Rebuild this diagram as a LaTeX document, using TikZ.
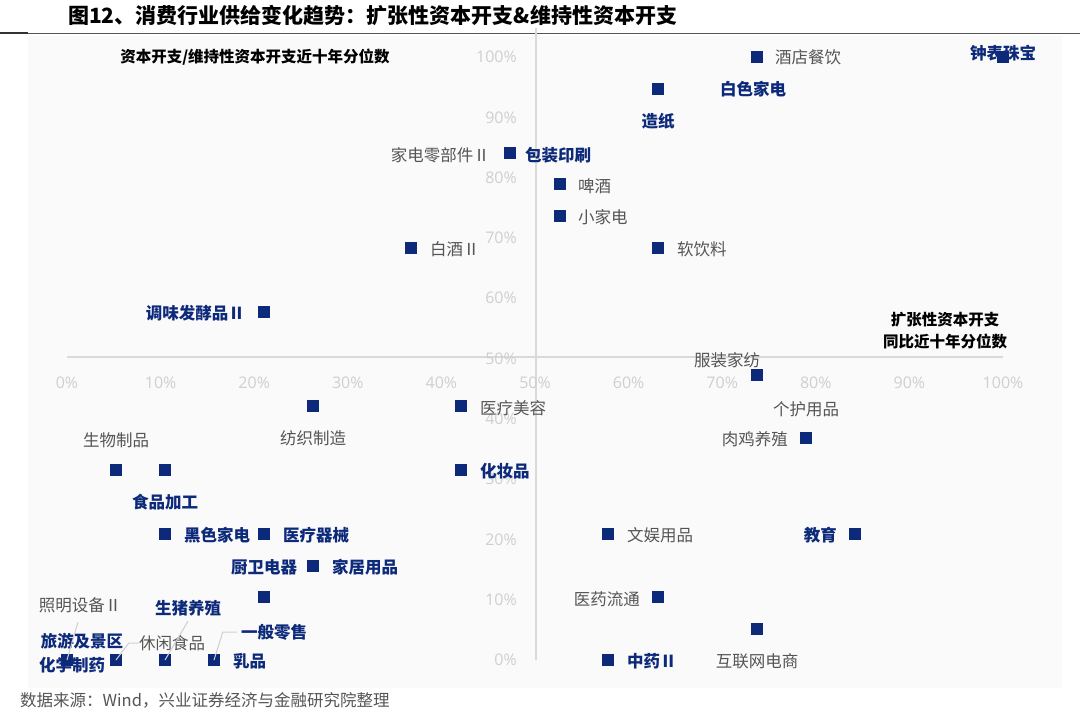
\documentclass[tikz,border=0pt]{standalone}
\usepackage{fontspec}
\setmainfont{Noto Sans CJK SC}
\newfontfamily\latinfont{Open Sans}
\definecolor{mk}{HTML}{0D2A7A}
\definecolor{lg}{HTML}{555555}
\definecolor{ax}{HTML}{D9D9D9}
\definecolor{tk}{HTML}{CFCFCF}
\begin{document}
\begin{tikzpicture}[x=1pt,y=-1pt,
 pt/.style={fill=mk,minimum size=12pt,inner sep=0pt},
 gl/.style={text=lg,font=\fontsize{16.5}{18}\selectfont,inner sep=0pt},
 bl/.style={text=mk,font=\fontsize{16.5}{18}\selectfont\bfseries,inner sep=0pt},
 tick/.style={text=tk,font=\latinfont\fontsize{16}{18}\selectfont,inner sep=0pt},
 ttl/.style={text=black,font=\fontsize{15.5}{18}\selectfont\bfseries,inner sep=0pt},
 lead/.style={draw=tk,line width=1pt}]
\useasboundingbox (0,0) rectangle (1080,715);
\fill[white] (0,0) rectangle (1080,715);
\fill[black!2] (28,36) rectangle (1062,688);
\node[anchor=west,font=\fontsize{21}{24}\selectfont\bfseries,inner sep=0pt] (title) at (68,15) {图12、消费行业供给变化趋势：扩张性资本开支\&维持性资本开支};
\draw[lg,line width=1pt] (0,33) -- (1080,33);
\draw[black!80,line width=2pt] (0,33) -- (28,33);
\node[anchor=west,font=\fontsize{16.5}{18}\selectfont,text=lg,inner sep=0pt] (src) at (20,700) {数据来源：Wind，兴业证券经济与金融研究院整理};
% axes
\coordinate (h0) at (67,357); \coordinate (h1) at (1003,357);
\coordinate (v0) at (536,28); \coordinate (v1) at (536,660);
\draw[ax,line width=1.5pt] (h0) -- (h1);
\draw[ax,line width=1.5pt] (v0) -- (v1);
\foreach \i in {1,...,10}{
 \node[tick] (x\i) at ({67+93.6*\i},383) {\i0\%};
 \node[tick,anchor=east] (y\i) at (517,{660-60.3*\i}) {\i0\%};
}
\node[tick] (x0) at (67,383) {0\%};
\node[tick,anchor=east] (y0) at (517,660) {0\%};
\node[ttl] (yt) at (255,57) {资本开支/维持性资本开支近十年分位数};
\node[ttl,align=center] (xt) at (945,331) {扩张性资本开支\\[4pt]同比近十年分位数};
% markers
\foreach \n/\x/\y in {a/757/57,b/1003/57,c/658/89,d/510/153,e/560/184,f/560/216,g/658/248,h/411/248,i/264/312,j/757/375,k/806/438,l/855/534,m/608/534,n/658/597,o/757/629,p/608/660,q/313/406,r/461/406,s/461/470,t/116/470,u/165/470,v/165/534,w/264/534,z/313/566,aa/264/597,ab/67/660,ac/116/660,ad/165/660,ae/214/660}
 \node[pt] (p\n) at (\x,\y) {};
% labels
\node[gl,anchor=west] at (775,57) {酒店餐饮};
\node[bl] at (1003,53) {钟表珠宝};
\node[bl,anchor=west] at (720,89) {白色家电};
\node[bl] at (658,121) {造纸};
\node[bl,anchor=west] at (525,155) {包装印刷};
\node[gl,anchor=east] at (490,155) {家电零部件Ⅱ};
\node[gl,anchor=west] at (578,186) {啤酒};
\node[gl,anchor=west] at (578,217) {小家电};
\node[gl,anchor=west] at (677,249) {软饮料};
\node[gl,anchor=west] at (430,249) {白酒Ⅱ};
\node[bl,anchor=east] at (245,313) {调味发酵品Ⅱ};
\node[gl] at (727,360) {服装家纺};
\node[gl] at (806,409) {个护用品};
\node[gl,anchor=east] at (788,439) {肉鸡养殖};
\node[bl,anchor=east] at (837,535) {教育};
\node[gl,anchor=west] at (627,535) {文娱用品};
\node[gl,anchor=east] at (640,599) {医药流通};
\node[gl] at (757,661) {互联网电商};
\node[bl,anchor=west] at (627,661) {中药Ⅱ};
\node[gl] at (313,438) {纺织制造};
\node[gl,anchor=west] at (480,408) {医疗美容};
\node[bl,anchor=west] at (480,471) {化妆品};
\node[gl] at (116,440) {生物制品};
\node[bl] at (165,502) {食品加工};
\node[bl,anchor=west] at (184,535) {黑色家电};
\node[bl,anchor=west] at (283,535) {医疗器械};
\node[bl] at (264,567) {厨卫电器};
\node[bl,anchor=west] at (332,567) {家居用品};
\node[gl] (l1) at (80,605) {照明设备Ⅱ};
\node[bl] (l2) at (188,608) {生猪养殖};
\node[bl] (l3) at (82,641) {旅游及景区};
\node[gl] (l4) at (172,643) {休闲食品};
\node[bl] (l5) at (274,632) {一般零售};
\node[bl] (l6) at (72,665) {化学制药};
\node[bl,anchor=west] (l7) at (233,661) {乳品};
\draw[lead] (78,622) -- (pab.center);
\draw[lead] (l4.west) -- ++(-10,0) -- (pac.center);
\draw[lead] (l2.south) ++(0,5) -- (pad.center);
\draw[lead] (l5.west) ++(-4,0) -- ++(-14,0) -- (pae.center);
\end{tikzpicture}
\end{document}
